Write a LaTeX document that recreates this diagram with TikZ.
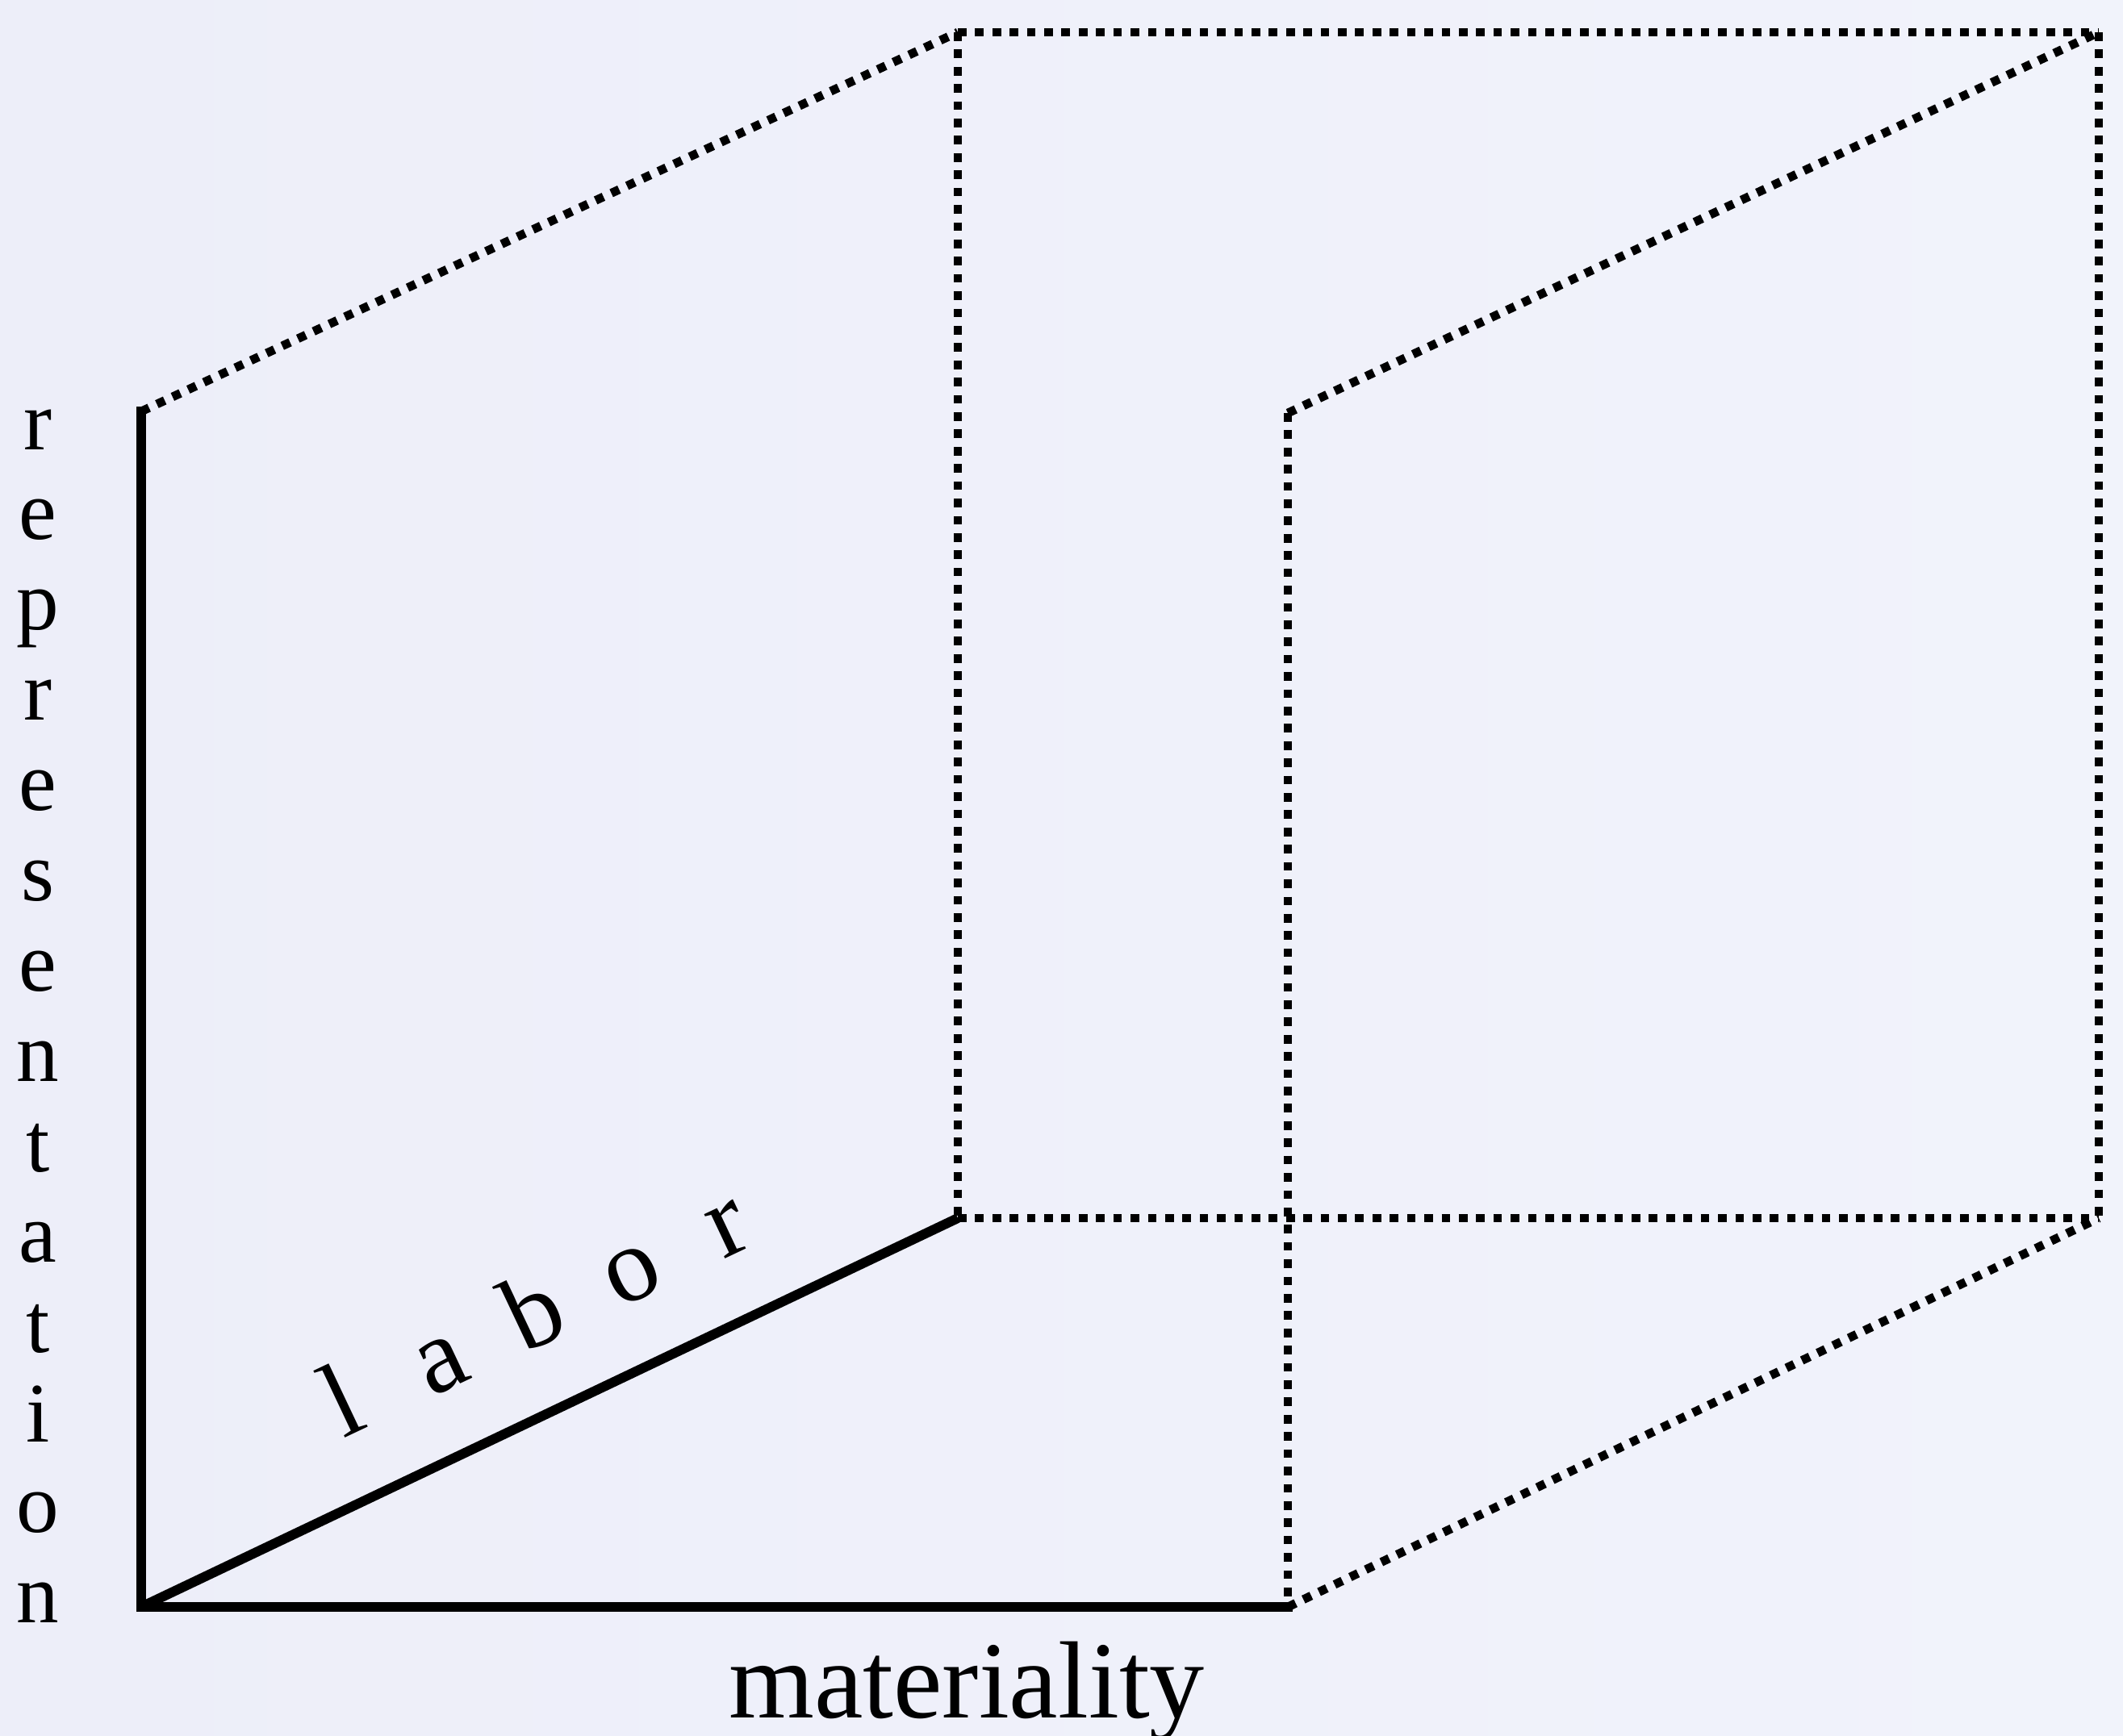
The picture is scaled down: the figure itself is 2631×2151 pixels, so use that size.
\documentclass[tikz,border=0pt]{standalone}
\usepackage{fontspec}
\setmainfont{Liberation Serif}
\definecolor{bgA}{RGB}{237,238,249}
\definecolor{bgB}{RGB}{241,243,251}
\begin{document}
\begin{tikzpicture}[x=0.01cm,y=0.01cm,
  solidedge/.style={line width=0.12cm, line cap=rect, line join=miter},
  dotedge/.style={line width=0.107cm, dash pattern=on 0.107cm off 0.107cm},
  bigtext/.style={font=\fontsize{38.7pt}{46pt}\selectfont, inner sep=0pt},
  labortext/.style={font=\fontsize{37.5pt}{45pt}\selectfont, inner sep=0pt},
  reptext/.style={font=\fontsize{29.9pt}{36pt}\selectfont, inner sep=0pt}]
\shade[left color=bgA, right color=bgB] (0,0) rectangle (2631,-2151);
\useasboundingbox (0,0) rectangle (2631,-2151);
% corners
\coordinate (O) at (175,-1992);
\coordinate (V) at (175,-510);
\coordinate (M) at (1596,-1992);
\coordinate (L) at (1187,-1510);
\coordinate (TL) at (1187,-40);
\coordinate (TR) at (2601,-40);
\coordinate (BR) at (2601,-1510);
\coordinate (F) at (1596,-512);
% dotted edges
\draw[dotedge] (V) -- (TL);
\draw[dotedge] (TL) -- (TR);
\draw[dotedge] (TL) -- (L);
\draw[dotedge] (F) -- (TR);
\draw[dotedge] (F) -- (M);
\draw[dotedge] (L) -- (BR);
\draw[dotedge] (TR) -- (BR);
\draw[dotedge] (M) -- (BR);
% solid axes
\draw[solidedge] (V) -- (O) -- (M);
\draw[solidedge, line cap=butt] (O) -- (L);
% labels
\node[bigtext, anchor=base] (mat) at (1198,-2129) {materiality};
\node[labortext, anchor=base, rotate=25.3] (lab) at (679,-1664)
  {\makebox[1.31cm]{l}\makebox[1.31cm]{a}\makebox[1.31cm]{b}\makebox[1.31cm]{o}\makebox[1.31cm]{r}};
\foreach \c [count=\i] in {r,e,p,r,e,s,e,n,t,a,t,i,o,n}
  \node[reptext, anchor=base] (rep\i) at (47,{-(557+111.9*(\i-1))}) {\c};
\end{tikzpicture}
\end{document}
